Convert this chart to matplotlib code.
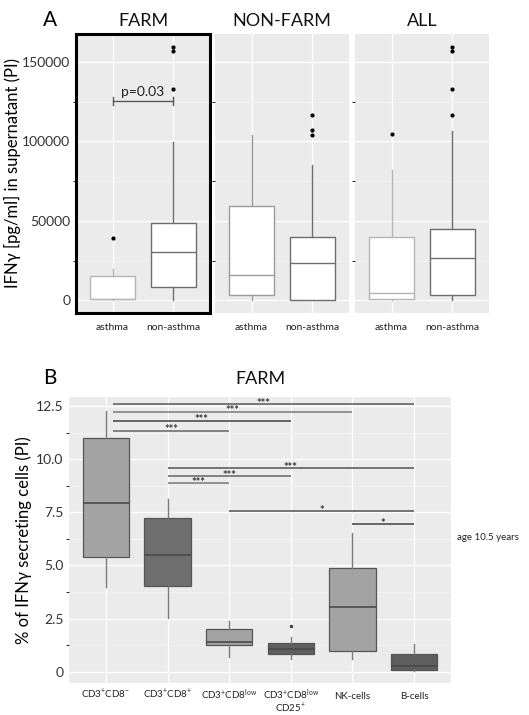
import numpy as np
import matplotlib.pyplot as plt
from matplotlib.ticker import MultipleLocator
import matplotlib.transforms as mtransforms

plt.rcParams['font.family'] = ['Lato', 'DejaVu Sans']
plt.rcParams['mathtext.fontset'] = 'custom'
plt.rcParams['mathtext.rm'] = 'Lato'
plt.rcParams['mathtext.it'] = 'Lato'

# ---- panel A data (IFNy pg/ml) ----
groups_a = ['FARM', 'NON-FARM', 'ALL']
cats_a = ['asthma', 'non-asthma']
q1_a = [[1000, 8400], [3600, 0], [1000, 3100]]
med_a = [[1000, 30300], [15700, 23700], [4400, 26600]]
q3_a = [[15000, 48600], [59700, 39800], [39800, 45000]]
wlo_a = [[0, 0], [0, 0], [0, 0]]
whi_a = [[20000, 99400], [104300, 85400], [82300, 106800]]
fliers_a = [[[39000], [133000, 157200, 159700]],
            [[], [104300, 107200, 116800]],
            [[104500], [116800, 133000, 157200, 159700]]]
edge_a = ['#b4b4b4', '#6e6e6e']

# ---- panel B data (% IFNy secreting cells) ----
cats_b = [r'CD3$^{+}$CD8$^{-}$', r'CD3$^{+}$CD8$^{+}$', r'CD3$^{+}$CD8$^{low}$',
          r'CD3$^{+}$CD8$^{low}$', 'NK-cells', 'B-cells']
cats_b_line2 = ['', '', '', r'CD25$^{+}$', '', '']
q1_b = [5.40, 4.05, 1.25, 0.83, 0.99, 0.08]
med_b = [7.95, 5.49, 1.38, 1.07, 3.06, 0.28]
q3_b = [11.01, 7.25, 1.99, 1.33, 4.89, 0.83]
wlo_b = [4.00, 2.51, 0.67, 0.58, 0.58, 0.05]
whi_b = [12.28, 8.12, 2.40, 1.62, 6.54, 1.30]
fliers_b = [[], [], [], [2.13], [], []]
fill_b = ['#a3a3a3', '#6e6e6e', '#a3a3a3', '#5e5e5e', '#a3a3a3', '#5e5e5e']

sig_from = [1.11, 1.11, 1.11, 1.11, 2, 2, 2, 3, 5]
sig_to = [6, 5, 4, 3, 6, 4, 3, 6, 6]
sig_y = [12.59, 12.23, 11.81, 11.34, 9.57, 9.21, 8.86, 7.56, 6.93]
sig_lab = ['***', '***', '***', '***', '***', '***', '***', '*', '*']
sig_col = ['#707070', '#8a8a8a', '#5a5a5a', '#7a7a7a', '#6a6a6a', '#7a7a7a',
           '#8a8a8a', '#6a6a6a', '#5a5a5a']

BG = '#ebebeb'
fig = plt.figure(figsize=(5.29, 7.15), dpi=100)
W, H = 529, 715


def style(ax):
    ax.set_facecolor(BG)
    for s in ax.spines.values():
        s.set_visible(False)
    ax.grid(True, which='major', color='white', lw=1.0)
    ax.grid(True, which='minor', color='#f4f4f4', lw=0.6)
    ax.set_axisbelow(True)
    ax.tick_params(length=0, colors='#333333')
    ax.tick_params(axis='x', which='minor', bottom=False)


# ---- panel A ----
lefts = [76, 215, 355]
for i, g in enumerate(groups_a):
    ax = fig.add_axes([lefts[i] / W, 1 - 313 / H, 134 / W, 279 / H])
    style(ax)
    for j in range(2):
        st = [dict(med=med_a[i][j], q1=q1_a[i][j], q3=q3_a[i][j],
                   whislo=wlo_a[i][j], whishi=whi_a[i][j], fliers=fliers_a[i][j])]
        c = edge_a[j] if not (i == 1 and j == 0) else '#9a9a9a'
        ax.bxp(st, positions=[j + 1], widths=0.75, patch_artist=True,
               boxprops=dict(facecolor='white', edgecolor=c, lw=1.0),
               medianprops=dict(color=c, lw=1.0),
               whiskerprops=dict(color=c, lw=1.0), capprops=dict(lw=0),
               flierprops=dict(marker='o', markersize=2.0, markerfacecolor='black',
                               markeredgecolor='black'))
    ax.set_xlim(0.4, 2.6)
    ax.set_ylim(-7985, 167685)
    ax.set_xticks([1, 2])
    ax.set_xticklabels(cats_a, fontsize=7.5, color='#222222')
    ax.tick_params(axis='x', pad=7)
    ax.yaxis.set_major_locator(MultipleLocator(50000))
    ax.yaxis.set_minor_locator(MultipleLocator(25000))
    if i == 0:
        ax.set_yticks([0, 50000, 100000, 150000])
        ax.set_yticklabels(['0', '50000', '100000', '150000'], fontsize=10)
        ax.tick_params(axis='y', pad=4)
        ax.set_ylabel('IFNγ [pg/ml] in supernatant (PI)', fontsize=12, labelpad=1)
        for s in ax.spines.values():
            s.set_visible(True)
            s.set_color('black')
            s.set_linewidth(2.2)
        # p-value bracket
        ax.plot([1, 2], [125600, 125600], color='#555555', lw=1.0)
        ax.plot([1, 1], [128300, 123000], color='#555555', lw=1.0)
        ax.plot([2, 2], [128300, 123000], color='#555555', lw=1.0)
        ax.text(1.5, 127500, 'p=0.03', ha='center', va='bottom', fontsize=10, color='#222222')
    else:
        ax.set_yticklabels([])
    ax.set_title(g, fontsize=13, pad=6, color='#111111')

fig.text(50 / W, 1 - 20 / H, 'A', fontsize=15, ha='center', va='center')

# ---- panel B ----
axb = fig.add_axes([69 / W, 1 - 683.3 / H, 382 / W, 286.6 / H])
style(axb)
for k in range(len(cats_b)):
    st = [dict(med=med_b[k], q1=q1_b[k], q3=q3_b[k], whislo=wlo_b[k],
               whishi=whi_b[k], fliers=fliers_b[k])]
    axb.bxp(st, positions=[k + 1], widths=0.75, patch_artist=True,
            boxprops=dict(facecolor=fill_b[k], edgecolor='#555555', lw=0.9),
            medianprops=dict(color='#4a4a4a', lw=1.2),
            whiskerprops=dict(color='#7a7a7a', lw=1.0), capprops=dict(lw=0),
            flierprops=dict(marker='o', markersize=1.5, markerfacecolor='#444444',
                            markeredgecolor='#444444'))

for a, b, y, lab, c in zip(sig_from, sig_to, sig_y, sig_lab, sig_col):
    axb.plot([a, b], [y, y], color=c, lw=1.3, solid_capstyle='butt')
    axb.text((a + b) / 2, y + 0.04, lab, ha='center', va='center', fontsize=8,
             color='#333333', fontweight='bold')

axb.set_xlim(0.4, 6.6)
axb.set_ylim(-0.55, 12.94)
axb.set_xticks(range(1, len(cats_b) + 1))
axb.set_xticklabels(cats_b, fontsize=7, color='#222222', va='baseline')
axb.tick_params(axis='x', pad=11)
# second line of the two-line tick label
trans = mtransforms.blended_transform_factory(axb.transData, axb.transAxes)
for k, extra in enumerate(cats_b_line2):
    if extra:
        axb.text(k + 1, -0.103, extra, transform=trans, ha='center', va='baseline',
                 fontsize=7, color='#222222')
axb.set_yticks([0, 2.5, 5.0, 7.5, 10.0, 12.5])
axb.set_yticklabels(['0', '2.5', '5.0', '7.5', '10.0', '12.5'], fontsize=10)
axb.yaxis.set_minor_locator(MultipleLocator(1.25))
axb.tick_params(axis='y', pad=4)
axb.set_ylabel('% of IFNγ secreting cells (PI)', fontsize=12, labelpad=3)
axb.set_title('FARM', fontsize=13, pad=9, color='#111111')

fig.text(50 / W, 1 - 378 / H, 'B', fontsize=15, ha='center', va='center')
fig.text(457 / W, 1 - 537 / H, 'age 10.5 years', fontsize=7, ha='left', va='center',
         color='#222222')

fig.savefig('out.png', dpi=100, facecolor='white')
